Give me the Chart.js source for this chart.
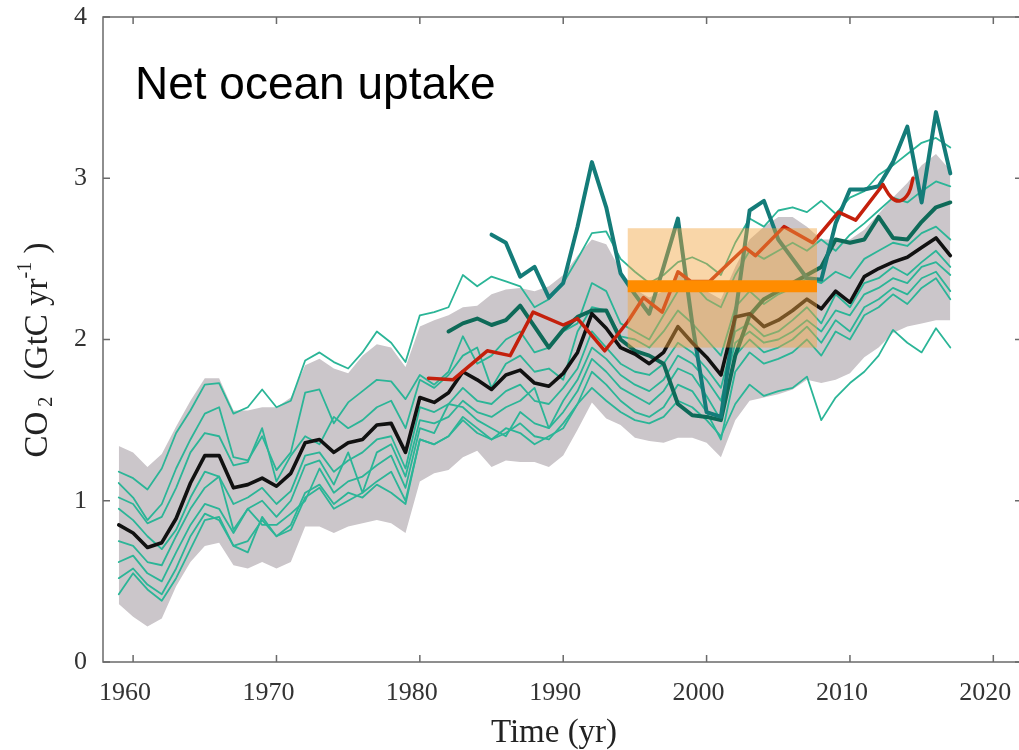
<!DOCTYPE html>
<html>
<head>
<meta charset="utf-8">
<title>Net ocean uptake</title>
<script src="https://cdn.jsdelivr.net/npm/chart.js@4.4.1/dist/chart.umd.min.js"></script>
<style>
  html, body { margin: 0; padding: 0; background: #fff; overflow: hidden; }
  #wrap { width: 1019px; height: 750px; overflow: hidden; }
</style>
</head>
<body>
<div id="wrap"><canvas id="oceanChart" width="1034" height="750"></canvas></div>
<script>
// ---- data ----
const modelYears = [1959, 1960, 1961, 1962, 1963, 1964, 1965, 1966, 1967, 1968, 1969,
  1970, 1971, 1972, 1973, 1974, 1975, 1976, 1977, 1978, 1979,
  1980, 1981, 1982, 1983, 1984, 1985, 1986, 1987, 1988, 1989,
  1990, 1991, 1992, 1993, 1994, 1995, 1996, 1997, 1998, 1999,
  2000, 2001, 2002, 2003, 2004, 2005, 2006, 2007, 2008, 2009,
  2010, 2011, 2012, 2013, 2014, 2015, 2016, 2017];

// multi-model mean (black)
const modelMean = [0.85, 0.80, 0.71, 0.74, 0.89, 1.11, 1.28, 1.28, 1.08, 1.10, 1.14,
  1.09, 1.17, 1.36, 1.38, 1.30, 1.36, 1.38, 1.47, 1.48, 1.30,
  1.64, 1.61, 1.67, 1.80, 1.75, 1.69, 1.78, 1.81, 1.73, 1.71,
  1.79, 1.92, 2.16, 2.07, 1.95, 1.91, 1.85, 1.92, 2.08, 1.98,
  1.89, 1.78, 2.14, 2.16, 2.08, 2.12, 2.18, 2.25, 2.19, 2.30,
  2.23, 2.39, 2.44, 2.48, 2.51, 2.57, 2.63, 2.52];

// grey spread
const bandUpper = [1.34, 1.30, 1.21, 1.29, 1.46, 1.62, 1.76, 1.76, 1.56, 1.56, 1.58,
  1.58, 1.64, 1.84, 1.88, 1.82, 1.79, 1.90, 1.97, 1.95, 1.83,
  2.08, 2.12, 2.15, 2.20, 2.21, 2.28, 2.31, 2.32, 2.30, 2.33,
  2.40, 2.52, 2.62, 2.59, 2.43, 2.31, 2.26, 2.30, 2.40, 2.36,
  2.30, 2.25, 2.45, 2.62, 2.70, 2.76, 2.76, 2.70, 2.62, 2.62,
  2.62, 2.68, 2.78, 2.88, 2.97, 3.08, 3.15, 3.05];
const bandLower = [0.36, 0.28, 0.22, 0.27, 0.47, 0.62, 0.72, 0.74, 0.60, 0.58, 0.62,
  0.58, 0.62, 0.84, 0.84, 0.80, 0.84, 0.86, 0.88, 0.86, 0.80,
  1.12, 1.17, 1.19, 1.27, 1.31, 1.21, 1.25, 1.24, 1.24, 1.21,
  1.28, 1.44, 1.61, 1.51, 1.47, 1.39, 1.37, 1.36, 1.39, 1.39,
  1.36, 1.27, 1.50, 1.62, 1.64, 1.66, 1.69, 1.75, 1.73, 1.75,
  1.79, 1.89, 1.95, 2.04, 2.08, 2.10, 2.12, 2.12];

// individual models (thin teal)
const model1 = [1.18, 1.14, 1.07, 1.20, 1.42, 1.56, 1.72, 1.73, 1.54, 1.58, 1.69,
  1.58, 1.62, 1.87, 1.92, 1.86, 1.82, 1.92, 2.05, 1.98, 1.86,
  2.15, 2.17, 2.20, 2.40, 2.33, 2.39, 2.36, 2.33, 2.20, 2.25,
  2.35, 2.50, 2.66, 2.67, 2.50, 2.42, 2.35, 2.40, 2.48, 2.51,
  2.47, 2.40, 2.60, 2.75, 2.70, 2.80, 2.82, 2.79, 2.86, 2.78,
  2.88, 2.92, 3.02, 3.08, 3.15, 3.22, 3.25, 3.19];
const model2 = [1.11, 1.02, 0.88, 0.98, 1.20, 1.38, 1.54, 1.58, 1.27, 1.25, 1.40,
  1.19, 1.30, 1.67, 1.69, 1.48, 1.61, 1.68, 1.75, 1.74, 1.63,
  1.78, 1.72, 1.80, 2.02, 1.85, 1.90, 2.00, 2.05, 1.92, 1.95,
  2.05, 2.10, 2.35, 2.30, 2.10, 2.05, 2.00, 2.15, 2.30, 2.35,
  2.25, 2.20, 2.40, 2.55, 2.50, 2.55, 2.60, 2.55, 2.62, 2.55,
  2.65, 2.72, 2.80, 2.88, 2.85, 2.92, 2.98, 2.95];
const model3 = [1.02, 0.98, 0.86, 0.90, 1.08, 1.30, 1.42, 1.40, 1.22, 1.24, 1.45,
  1.12, 1.28, 1.40, 1.35, 1.52, 1.45, 1.50, 1.58, 1.62, 1.45,
  1.75, 1.70, 1.78, 1.90, 1.95, 1.70, 1.85, 1.90, 1.80, 1.82,
  1.75, 2.05, 2.20, 2.18, 2.02, 2.00, 1.95, 2.05, 2.18, 2.10,
  2.00, 1.90, 2.20, 2.30, 2.22, 2.28, 2.32, 2.38, 2.35, 2.42,
  2.38, 2.50, 2.55, 2.60, 2.58, 2.66, 2.70, 2.62];
const model4 = [0.95, 0.88, 0.78, 0.70, 0.82, 1.02, 1.18, 1.15, 0.98, 1.02, 1.08,
  0.98, 1.06, 1.28, 1.30, 1.18, 1.25, 1.30, 1.38, 1.40, 1.20,
  1.58, 1.55, 1.60, 1.70, 1.62, 1.60, 1.68, 1.72, 1.62, 1.60,
  1.70, 1.82, 2.05, 1.95, 1.85, 1.80, 1.78, 1.85, 1.98, 1.92,
  1.82, 1.70, 2.05, 2.10, 2.02, 2.05, 2.12, 2.20, 2.10, 2.28,
  2.20, 2.35, 2.38, 2.45, 2.40, 2.48, 2.55, 2.45];
const model5 = [0.75, 0.72, 0.62, 0.60, 0.78, 0.95, 1.08, 1.15, 0.82, 0.95, 1.00,
  0.90, 1.00, 1.22, 1.25, 1.10, 1.30, 1.05, 1.30, 1.35, 1.15,
  1.50, 1.48, 1.52, 1.62, 1.55, 1.52, 1.58, 1.62, 1.70, 1.45,
  1.62, 1.75, 1.95, 1.88, 1.78, 1.72, 1.68, 1.75, 1.90, 1.85,
  1.75, 1.62, 1.98, 2.05, 1.98, 2.00, 2.05, 2.12, 2.05, 2.18,
  2.15, 2.28, 2.32, 2.38, 2.35, 2.45, 2.48, 2.40];
const model6 = [0.62, 0.66, 0.55, 0.50, 0.68, 0.85, 0.98, 0.95, 0.80, 0.95, 0.85,
  0.85, 0.92, 1.00, 1.20, 1.05, 1.12, 1.15, 1.22, 1.28, 1.08,
  1.45, 1.42, 1.60, 1.58, 1.50, 1.45, 1.40, 1.55, 1.48, 1.45,
  1.55, 1.68, 1.88, 1.80, 1.70, 1.65, 1.60, 1.68, 1.82, 1.78,
  1.65, 1.50, 1.90, 2.00, 1.92, 1.95, 2.00, 2.08, 1.98, 2.12,
  2.05, 2.20, 2.25, 2.32, 2.28, 2.38, 2.42, 2.30];
const model7 = [0.52, 0.58, 0.48, 0.42, 0.58, 0.78, 0.92, 0.88, 0.72, 0.75, 0.88,
  0.78, 0.82, 1.02, 1.08, 0.95, 1.00, 1.05, 1.12, 1.18, 1.00,
  1.38, 1.35, 1.40, 1.50, 1.42, 1.38, 1.42, 1.48, 1.40, 1.38,
  1.48, 1.60, 1.80, 1.72, 1.62, 1.55, 1.52, 1.58, 1.72, 1.68,
  1.55, 1.38, 1.80, 1.92, 1.85, 1.88, 1.92, 2.00, 1.90, 2.05,
  2.00, 2.15, 2.20, 2.28, 2.22, 2.32, 2.38, 2.25];
const model8 = [0.42, 0.55, 0.45, 0.38, 0.52, 0.70, 0.88, 0.90, 0.72, 0.68, 0.90,
  0.78, 0.85, 1.05, 1.10, 0.98, 1.05, 1.02, 1.10, 1.05, 0.98,
  1.38, 1.35, 1.40, 1.52, 1.45, 1.38, 1.45, 1.42, 1.35, 1.40,
  1.45, 1.60, 1.70, 1.62, 1.55, 1.50, 1.48, 1.52, 1.62, 1.58,
  1.50, 1.40, 1.60, 1.72, 1.65, 1.68, 1.70, 1.77, 1.50, 1.64,
  1.73, 1.80, 1.90, 2.06, 1.98, 1.92, 2.07, 1.95];

// data-based products (thick dark teal)
const productAYears = modelYears.slice(26);   // 1985-2017
const productA = [2.65, 2.60, 2.39, 2.45, 2.26, 2.35, 2.70, 3.10, 2.82, 2.41, 2.28,
  2.16, 2.45, 2.75, 2.10, 1.55, 1.52, 2.15, 2.80, 2.86, 2.62,
  2.50, 2.38, 2.37, 2.72, 2.93, 2.93, 2.95, 3.10, 3.32, 2.85,
  3.41, 3.03];
const productBYears = modelYears.slice(23);   // 1982-2017
const productB = [2.05, 2.10, 2.13, 2.09, 2.12, 2.21, 2.08, 1.95, 2.06, 2.14, 2.18,
  2.18, 2.00, 1.93, 1.90, 1.85, 1.60, 1.53, 1.52, 1.50, 1.90,
  2.15, 2.25, 2.30, 2.35, 2.40, 2.45, 2.62, 2.60, 2.62, 2.76,
  2.63, 2.62, 2.73, 2.82, 2.85];

// red estimate
const redYears = [1980.6, 1982.3, 1984.7, 1986.3, 1987.9, 1990.0, 1991.0, 1992.9, 1994.5,
  1995.6, 1996.9, 1998.0, 1998.9, 2000.2, 2002.7, 2003.4, 2005.4, 2007.4, 2009.2,
  2010.4, 2012.3];
const redValues = [1.76, 1.75, 1.93, 1.90, 2.17, 2.09, 2.13, 1.93, 2.11,
  2.26, 2.17, 2.42, 2.36, 2.36, 2.57, 2.52, 2.70, 2.60, 2.79,
  2.74, 2.96];
const hookYears = [2012.3, 2012.9, 2013.5, 2014.1, 2014.4];
const hookValues = [2.96, 2.88, 2.86, 2.91, 3.00];

// orange box and mean bar
const boxYears = [1994.5, 2007.7];
const boxRange = [1.95, 2.69];
const barLevel = 2.33;

const xTickValues = [1960, 1970, 1980, 1990, 2000, 2010, 2020];
const yTickValues = [0, 1, 2, 3, 4];

// helper to pair x and y arrays
function pts(xs, ys) {
    return ys.map((v, i) => ({ x: xs[i], y: v }));
}

const teal = '#2bb597';
const serif = '"Liberation Serif", "Times New Roman", serif';

function thin(values) {
    return { data: pts(modelYears, values), borderColor: teal, borderWidth: 1.8 };
}

// extra drawing: box, bar, frame, inward ticks and titles
const decorations = {
    id: 'decorations',
    afterDatasetsDraw(chart) {
        const ctx = chart.ctx;
        const x = chart.scales.x, y = chart.scales.y;
        const x0 = x.getPixelForValue(boxYears[0]), x1 = x.getPixelForValue(boxYears[1]);
        const y0 = y.getPixelForValue(boxRange[1]), y1 = y.getPixelForValue(boxRange[0]);
        ctx.save();
        ctx.fillStyle = 'rgba(242,164,62,0.45)';
        ctx.fillRect(x0, y0, x1 - x0, y1 - y0);
        ctx.strokeStyle = '#ff8c00';
        ctx.lineWidth = 12;
        ctx.lineCap = 'butt';
        ctx.beginPath();
        ctx.moveTo(x0, y.getPixelForValue(barLevel));
        ctx.lineTo(x1, y.getPixelForValue(barLevel));
        ctx.stroke();
        ctx.restore();
    },
    afterDraw(chart) {
        const ctx = chart.ctx;
        const a = chart.chartArea;
        const x = chart.scales.x, y = chart.scales.y;
        ctx.save();
        ctx.strokeStyle = '#6a6a6a';
        ctx.lineWidth = 1.5;
        ctx.strokeRect(a.left, a.top, a.right - a.left, a.bottom - a.top);
        ctx.beginPath();
        xTickValues.forEach(v => {
            const px = x.getPixelForValue(v);
            ctx.moveTo(px, a.bottom); ctx.lineTo(px, a.bottom - 7);
            ctx.moveTo(px, a.top); ctx.lineTo(px, a.top + 7);
        });
        yTickValues.forEach(v => {
            const py = y.getPixelForValue(v);
            ctx.moveTo(a.left, py); ctx.lineTo(a.left + 7, py);
            ctx.moveTo(a.right, py); ctx.lineTo(a.right - 7, py);
        });
        ctx.stroke();

        // panel label
        ctx.fillStyle = '#000';
        ctx.font = '46px "Liberation Sans", Arial, sans-serif';
        ctx.textBaseline = 'alphabetic';
        ctx.textAlign = 'left';
        ctx.fillText('Net ocean uptake', 135, 99);

        // x title
        ctx.fillStyle = '#222';
        ctx.font = '33px ' + serif;
        ctx.textAlign = 'center';
        ctx.textBaseline = 'middle';
        ctx.fillText('Time (yr)', 554, 733);

        // y title with sub/superscript
        const parts = [
            { t: 'CO', size: 33, dy: 0 },
            { t: ' 2', size: 20, dy: 9 },
            { t: '  (GtC yr', size: 33, dy: 0 },
            { t: '-1', size: 20, dy: -12 },
            { t: ' )', size: 33, dy: 0 }
        ];
        ctx.translate(38, 350);
        ctx.rotate(-Math.PI / 2);
        ctx.textAlign = 'left';
        let total = 0;
        parts.forEach(p => { ctx.font = p.size + 'px ' + serif; p.w = ctx.measureText(p.t).width; total += p.w; });
        let cx = -total / 2;
        parts.forEach(p => {
            ctx.font = p.size + 'px ' + serif;
            ctx.fillText(p.t, cx, p.dy);
            cx += p.w;
        });
        ctx.restore();
    }
};

// first dataset is drawn on top
new Chart(document.getElementById('oceanChart'), {
    type: 'line',
    data: {
        datasets: [
            { data: pts(hookYears, hookValues), borderColor: '#c4200c', borderWidth: 3.5, tension: 0.4 },
            { data: pts(redYears, redValues), borderColor: '#c4200c', borderWidth: 3.5 },
            { data: pts(modelYears, modelMean), borderColor: '#111', borderWidth: 3.6 },
            { data: pts(productAYears, productA), borderColor: '#147c79', borderWidth: 4 },
            { data: pts(productBYears, productB), borderColor: '#0e6a58', borderWidth: 4 },
            thin(model1), thin(model2), thin(model3), thin(model4),
            thin(model5), thin(model6), thin(model7), thin(model8),
            { data: pts(modelYears, bandUpper), borderWidth: 0, borderColor: 'rgba(0,0,0,0)',
              backgroundColor: '#cbc6ca', fill: '+1' },
            { data: pts(modelYears, bandLower), borderWidth: 0, borderColor: 'rgba(0,0,0,0)' }
        ]
    },
    options: {
        responsive: false,
        animation: false,
        events: [],
        layout: { padding: { top: 17, right: 12, left: 0, bottom: 0 } },
        elements: {
            point: { radius: 0 },
            line: { tension: 0, borderJoinStyle: 'round', borderCapStyle: 'round' }
        },
        plugins: { legend: { display: false }, tooltip: { enabled: false } },
        scales: {
            x: {
                type: 'linear',
                min: 1957.9,
                max: 2022,
                afterFit: s => { s.height = 88; s.paddingLeft = 0; s.paddingRight = 0; },
                afterBuildTicks: s => { s.ticks = xTickValues.map(v => ({ value: v })); },
                grid: { display: false, drawTicks: false },
                border: { display: false },
                ticks: {
                    padding: 16,
                    labelOffset: -8,
                    maxRotation: 0,
                    autoSkip: false,
                    color: '#333',
                    font: { family: serif, size: 26 },
                    callback: v => String(v)
                }
            },
            y: {
                min: 0,
                max: 4,
                afterFit: s => { s.width = 103; s.paddingTop = 0; s.paddingBottom = 0; },
                afterBuildTicks: s => { s.ticks = yTickValues.map(v => ({ value: v })); },
                grid: { display: false, drawTicks: false },
                border: { display: false },
                ticks: {
                    padding: 16,
                    color: '#333',
                    font: { family: serif, size: 26 },
                    callback: v => String(v)
                }
            }
        }
    },
    plugins: [decorations]
});
</script>
</body>
</html>
